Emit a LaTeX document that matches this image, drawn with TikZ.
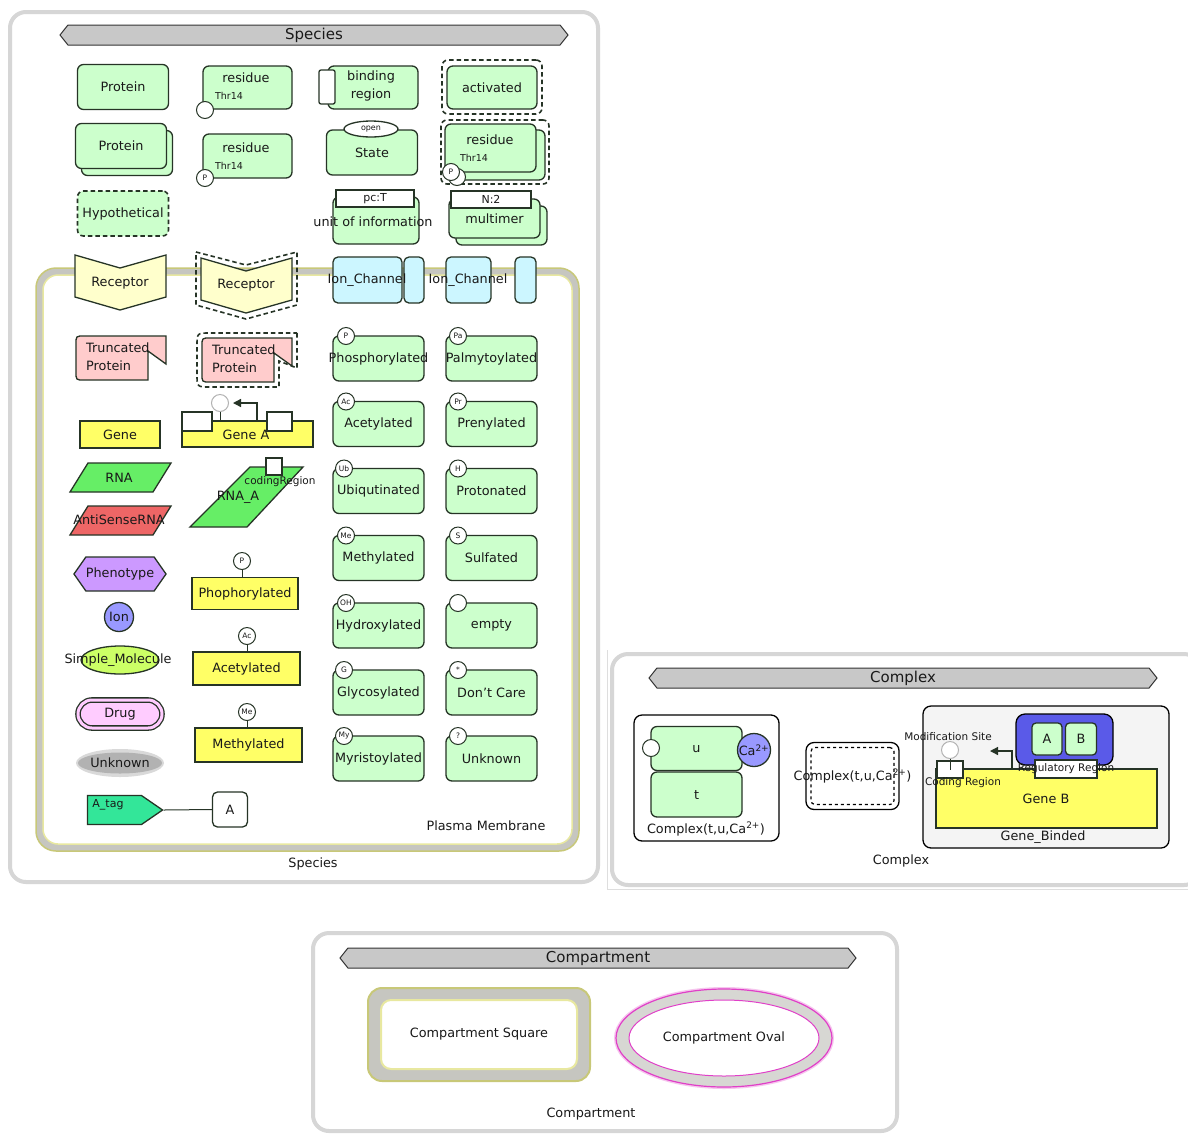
\documentclass[tikz,border=0pt]{standalone}
\usepackage{fontspec}
\setmainfont{DejaVu Sans}
\usetikzlibrary{shapes.geometric, shapes.symbols, shapes.misc, arrows.meta}

\definecolor{edge}{HTML}{263426}
\definecolor{protgreen}{HTML}{CCFFCC}
\definecolor{recyellow}{HTML}{FFFFCC}
\definecolor{ioncyan}{HTML}{CCF6FF}
\definecolor{truncpink}{HTML}{FFCCCC}
\definecolor{geneyellow}{HTML}{FFFF66}
\definecolor{rnagreen}{HTML}{66EE66}
\definecolor{antired}{HTML}{EE6666}
\definecolor{phenopurple}{HTML}{CC99FF}
\definecolor{ionblue}{HTML}{9999FF}
\definecolor{molgreen}{HTML}{CCFF66}
\definecolor{drugpink}{HTML}{FFCCFF}
\definecolor{tagmint}{HTML}{33E699}
\definecolor{cxblue}{HTML}{5A5AE8}
\definecolor{cxgray}{HTML}{F4F4F4}
\definecolor{bannergray}{HTML}{C8C8C8}
\definecolor{panelgray}{HTML}{D6D6D6}
\definecolor{colive}{HTML}{C8C878}
\definecolor{cband}{HTML}{C6C6C0}
\definecolor{cpale}{HTML}{E8E8A0}
\definecolor{cmag}{HTML}{E040C8}

\newcommand{\spill}[1]{\makebox[0pt]{#1}}

\begin{document}
\begin{tikzpicture}[x=1pt, y=-1pt,
  every node/.style={font=\fontsize{12.8}{15}\selectfont, inner sep=0pt, text=black!90},
  bord/.style={draw=edge, line width=1.3pt},
  prot/.style={bord, fill=protgreen, rounded corners=6pt, minimum width=91pt, minimum height=45pt},
  hypo/.style={bord, line width=1.6pt, dashed, dash pattern=on 4.5pt off 3pt, rounded corners=6pt},
  site/.style={circle, bord, line width=1pt, fill=white, minimum size=17pt},
  mod/.style={site, font=\fontsize{7.5}{8}\selectfont},
  wbox/.style={bord, fill=white},
  infobox/.style={wbox, minimum width=78pt, minimum height=17pt, font=\fontsize{11}{12}\selectfont},
  thr/.style={font=\fontsize{9.5}{10}\selectfont},
  lab/.style={font=\fontsize{10.5}{12}\selectfont},
  gene/.style={bord, fill=geneyellow},
  ionch/.style={bord, fill=ioncyan, rounded corners=5pt, minimum height=46pt},
  recep/.style={bord, fill=recyellow},
  trunc/.style={bord, fill=truncpink},
  rna/.style={bord, fill=rnagreen},
  cbox/.style={draw=black, line width=1.3pt, fill=white, rounded corners=8pt},
  panel/.style={draw=panelgray, line width=4pt, fill=white, rounded corners=16pt},
  banner/.style={signal, signal to=west and east, signal pointer angle=103, draw=black!80,
    line width=1pt, fill=bannergray, minimum height=20pt, font=\fontsize{15}{16}\selectfont}]
\useasboundingbox (0,0) rectangle (1188,1133);
\fill[white] (0,0) rectangle (1188,1133);

% panels
\node[panel, minimum width=588pt, minimum height=870pt] (SP) at (304,447) {};
\draw[panelgray!80, line width=0.8pt] (607,650) -- (607,889) -- (1188,889);
\node[panel, minimum width=588pt, minimum height=231pt] (CP) at (906,769.5) {};
\node[panel, minimum width=584pt, minimum height=198pt] (KP) at (605,1032) {};

\node[banner, minimum width=508pt] (SB) at (314,35) {Species};
\node[banner, minimum width=508pt] (CB) at (903,678) {Complex};
\node[banner, minimum width=516pt] (KB) at (598,958) {Compartment};

% plasma membrane
\node[draw=colive, line width=1.5pt, fill=cband, rounded corners=20pt, minimum width=543pt, minimum height=583pt] (PM) at (307.5,559.5) {};
\node[draw=cpale, line width=1.5pt, fill=white, rounded corners=15pt, minimum width=529pt, minimum height=569pt] (PMi) at (307.5,559.5) {};
\node (PMl) at (486,826) {Plasma Membrane};
\node (SPl) at (313,864) {Species};

% first row
\node[prot] (N1) at (123,87) {Protein};
\node[prot, minimum width=89pt, minimum height=43pt] (N2) at (247.5,87.5) {};
\node (N2a) at (246,78) {residue};
\node[thr] (N2b) at (229,96) {Thr14};
\node[site] (N2c) at (205,110) {};
\node[prot, minimum width=90pt, minimum height=43pt] (N3) at (373,87.5) {};
\node[wbox, rounded corners=2pt, minimum width=16pt, minimum height=34pt] (N3a) at (327,87) {};
\node[align=center, font=\fontsize{12.8}{18}\selectfont] (N3b) at (371,86) {binding\\region};
\node[hypo, minimum width=100pt, minimum height=54pt] (N4o) at (492,87) {};
\node[prot, minimum width=90pt, minimum height=43pt] (N4) at (492,87.5) {activated};

% second row
\node[prot] (N5b) at (127,153) {};
\node[prot] (N5) at (121,146) {Protein};
\node[prot, minimum width=89pt, minimum height=44pt] (N6) at (247.5,156) {};
\node (N6a) at (246,148) {residue};
\node[thr] (N6b) at (229,166) {Thr14};
\node[mod] (N6c) at (205,178) {P};
\node[prot] (N7) at (372,152.5) {State};
\node[ellipse, bord, fill=white, minimum width=54pt, minimum height=16pt, font=\fontsize{8}{9}\selectfont] (N7a) at (371,129) {open};
\node[hypo, minimum width=108pt, minimum height=64pt] (N8o) at (495,152) {};
\node[prot, minimum width=93pt, minimum height=50pt] (N8b) at (498.5,155) {};
\node[prot, minimum width=91pt, minimum height=48pt] (N8) at (490.5,148) {};
\node (N8a) at (490,140) {residue};
\node[thr] (N8c) at (474,158) {Thr14};
\node[mod] (N8d) at (457,177) {};
\node[mod] (N8e) at (451,172) {P};

% third row
\node[prot, hypo] (N9) at (123,213.5) {Hypothetical};
\node[prot, minimum width=86pt, minimum height=47pt] (N10) at (376,220.5) {};
\node[infobox] (N10a) at (375,198.5) {pc:T};
\node (N10b) at (373,222) {\spill{unit of information}};
\node[prot, minimum width=91pt, minimum height=39pt] (N11b) at (501.5,225.5) {};
\node[prot, minimum width=91pt, minimum height=39pt] (N11) at (494.5,218.5) {multimer};
\node[infobox, minimum width=80pt] (N11a) at (491,199.5) {N:2};

% receptors and channels on the membrane
\draw[recep] (75,255) -- (120,268) -- (166,255) -- (166,297) -- (120,310) -- (75,297) -- cycle;
\node (N12) at (120,283) {Receptor};
\draw[hypo, rounded corners=0pt] (196,252) -- (246,265) -- (297,252) -- (297,305) -- (246,319) -- (196,305) -- cycle;
\draw[recep] (201,258) -- (246,271) -- (292,258) -- (292,300) -- (246,313) -- (201,300) -- cycle;
\node (N13) at (246,285) {Receptor};
\node[ionch, minimum width=69pt] (N14) at (367.5,280) {};
\node[ionch, minimum width=20pt] (N14a) at (414,280) {};
\node (N14t) at (367,280) {\spill{Ion\_Channel}};
\node[ionch, minimum width=45pt] (N15) at (468.5,280) {};
\node[ionch, minimum width=21pt] (N15a) at (525.5,280) {};
\node (N15t) at (468,280) {\spill{Ion\_Channel}};

% truncated
\draw[trunc] (166,336) -- (166,364) -- (148,351) -- (148,380) -- (84,380) .. controls (76,380) .. (76,372)
  -- (76,344) .. controls (76,336) .. (84,336) -- cycle;
\node[align=left, anchor=west, font=\fontsize{12.8}{18}\selectfont] (N16) at (86,357) {Truncated\\Protein};
\draw[hypo, rounded corners=0pt] (297,333) -- (297,368) -- (279,361) -- (279,387) -- (210,387) .. controls (197,387) .. (197,374)
  -- (197,346) .. controls (197,333) .. (210,333) -- cycle;
\draw[trunc] (292,338) -- (292,366) -- (274,353) -- (274,382) -- (210,382) .. controls (202,382) .. (202,374)
  -- (202,346) .. controls (202,338) .. (210,338) -- cycle;
\node[align=left, anchor=west, font=\fontsize{12.8}{18}\selectfont] (N17) at (212,359) {Truncated\\Protein};

% genes
\node[gene, minimum width=80pt, minimum height=27pt] (N18) at (120,434.5) {Gene};
\node[gene, minimum width=131pt, minimum height=26pt] (N19) at (247.5,434) {};
\node[wbox, minimum width=30pt, minimum height=19pt] (N19a) at (197,421.5) {};
\node[wbox, minimum width=25pt, minimum height=19pt] (N19b) at (279.5,421.5) {};
\node (N19t) at (246,435) {Gene A};
\node[site, draw=gray!60] (N19c) at (220,403) {};
\draw[bord, line width=1pt] (N19c.south) -- (N19c.south |- N19.north);
\coordinate (N19d) at (257,421);
\coordinate (N19e) at (233,403);
\draw[bord, -{Triangle[length=8pt,width=8pt]}] (N19d) |- (N19e);

% rna
\draw[rna] (88,463) -- (171,463) -- (153,492) -- (70,492) -- cycle;
\node (N20) at (119,478) {RNA};
\draw[rna, fill=antired] (88,506) -- (171,506) -- (153,535) -- (70,535) -- cycle;
\node (N21) at (119,520) {\spill{AntiSenseRNA}};
\draw[rna] (250,467) -- (303,467) -- (247,527) -- (190,527) -- cycle;
\node[wbox, minimum width=16pt, minimum height=17pt] (N22a) at (274,466.5) {};
\node[lab] (N22b) at (280,482) {codingRegion};
\node (N22) at (238,497) {RNA\_A};

% other species
\node[signal, signal to=west and east, signal pointer angle=110, bord, fill=phenopurple, minimum width=90pt, minimum height=34pt] (N23) at (120,574) {Phenotype};
\node[circle, bord, fill=ionblue, minimum size=29pt] (N24) at (119,617) {Ion};
\node[ellipse, bord, fill=molgreen, minimum width=78pt, minimum height=28pt] (N25) at (120,660) {};
\node (N25t) at (118,660) {\spill{Simple\_Molecule}};
\node[rounded rectangle, bord, double=drugpink, double distance=3pt, fill=drugpink, minimum width=84pt, minimum height=28pt] (N26) at (120,714) {Drug};
\node[ellipse, fill=gray!30, minimum width=88pt, minimum height=28pt] (N27o) at (120,763) {};
\node[ellipse, fill=gray!60, minimum width=80pt, minimum height=21pt] (N27) at (120,763) {Unknown};
\node[signal, signal to=east, signal pointer angle=69, bord, fill=tagmint, minimum width=75pt, minimum height=29pt] (N28) at (114.5,810) {};
\node[font=\fontsize{11}{12}\selectfont] (N28t) at (108,805) {A\_tag};
\node[wbox, rounded corners=5pt, minimum width=35pt, minimum height=35pt] (N29) at (230,809.5) {A};
\draw[bord, line width=1pt] (N28.east) -- (N29.west);

% modified genes
\node[mod] (N30) at (242,561) {P};
\node[gene, minimum width=106pt, minimum height=32pt] (N31) at (245,593.5) {Phophorylated};
\draw[bord, line width=1pt] (N30.south) -- (N30.south |- N31.north);
\node[mod] (N32) at (247,636) {Ac};
\node[gene, minimum width=107pt, minimum height=33pt] (N33) at (246.5,668.5) {Acetylated};
\draw[bord, line width=1pt] (N32.south) -- (N32.south |- N33.north);
\node[mod] (N34) at (247,712) {Me};
\node[gene, minimum width=107pt, minimum height=34pt] (N35) at (248.5,745) {Methylated};
\draw[bord, line width=1pt] (N34.south) -- (N34.south |- N35.north);

% modification residues
\node[prot] (M1) at (378.5,358.5) {\spill{Phosphorylated}};
\node[mod] (M1s) at (346,336) {P};
\node[prot] (M2) at (491.5,358.5) {\spill{Palmytoylated}};
\node[mod] (M2s) at (458,336) {Pa};
\node[prot] (M3) at (378.5,424) {Acetylated};
\node[mod] (M3s) at (346,401.5) {Ac};
\node[prot] (M4) at (491.5,424) {Prenylated};
\node[mod] (M4s) at (458,401.5) {Pr};
\node[prot] (M5) at (378.5,491) {\spill{Ubiqutinated}};
\node[mod] (M5s) at (344,468.5) {Ub};
\node[prot] (M6) at (491.5,491) {Protonated};
\node[mod] (M6s) at (458,468.5) {H};
\node[prot] (M7) at (378.5,558) {Methylated};
\node[mod] (M7s) at (346,535.5) {Me};
\node[prot] (M8) at (491.5,558) {Sulfated};
\node[mod] (M8s) at (458,535.5) {S};
\node[prot] (M9) at (378.5,625.5) {\spill{Hydroxylated}};
\node[mod] (M9s) at (346,603) {OH};
\node[prot] (M10) at (491.5,625.5) {empty};
\node[mod] (M10s) at (458,603) {};
\node[prot] (M11) at (378.5,692.5) {\spill{Glycosylated}};
\node[mod] (M11s) at (344,670) {G};
\node[prot] (M12) at (491.5,692.5) {Don't Care};
\node[mod] (M12s) at (458,670) {*};
\node[prot] (M13) at (378.5,758.5) {\spill{Myristoylated}};
\node[mod] (M13s) at (344,736) {My};
\node[prot] (M14) at (491.5,758.5) {Unknown};
\node[mod] (M14s) at (458,736) {?};

% complexes
\node[cbox, minimum width=145pt, minimum height=126pt] (C1) at (706.5,778) {};
\node[prot, minimum width=91pt, minimum height=44pt] (C1u) at (696.5,748.5) {u};
\node[prot, minimum width=91pt, minimum height=45pt] (C1t) at (696.5,794.5) {t};
\node[site] (C1a) at (651,748) {};
\node[circle, bord, fill=ionblue, minimum size=33pt] (C1b) at (754,750) {\spill{Ca\textsuperscript{2+}}};
\node (C1l) at (706,829) {Complex(t,u,Ca\textsuperscript{2+})};

\node[cbox, minimum width=93pt, minimum height=67pt] (C2) at (852.5,776) {};
\node[draw=black, line width=1.2pt, dashed, rounded corners=4pt, minimum width=83pt, minimum height=57pt] (C2i) at (852.5,776) {\spill{Complex(t,u,Ca\textsuperscript{2+})}};

\node[cbox, fill=cxgray, minimum width=246pt, minimum height=142pt] (C3) at (1046,777) {};
\node[gene, minimum width=221pt, minimum height=59pt] (C3g) at (1046.5,798.5) {};
\node[cbox, fill=cxblue, rounded corners=9pt, minimum width=97pt, minimum height=51pt] (C3c) at (1064.5,739.5) {};
\node[prot, rounded corners=4pt, minimum width=30pt, minimum height=32pt] (C3a) at (1047,739) {A};
\node[prot, rounded corners=4pt, minimum width=31pt, minimum height=32pt] (C3b) at (1081,739) {B};
\node[wbox, minimum width=62pt, minimum height=18pt, lab] (C3r) at (1066,769) {\spill{Regulatory Region}};
\node[wbox, minimum width=26pt, minimum height=17pt] (C3d) at (950,769.5) {};
\node[site, draw=gray!60] (C3e) at (950,750) {};
\draw[bord, line width=1pt] (C3e.south) -- (C3d.center);
\node[lab] (C3f) at (948,737) {Modification Site};
\node[lab] (C3h) at (963,783) {Coding Region};
\node (C3i) at (1046,799) {Gene B};
\node (C3j) at (1043,837) {Gene\_Binded};
\coordinate (C3k) at (1012,769);
\coordinate (C3l) at (990,751);
\draw[bord, -{Triangle[length=8pt,width=8pt]}] (C3k) |- (C3l);
\node (CPl) at (901,861) {Complex};

% compartments
\node[draw=colive, line width=2pt, fill=cband, rounded corners=14pt, minimum width=222pt, minimum height=93pt] (K1) at (479,1034.5) {};
\node[draw=cpale, line width=2pt, fill=white, rounded corners=10pt, minimum width=196pt, minimum height=69pt] (K1i) at (479,1034.5) {Compartment Square};
\node[ellipse, draw=cmag!30, line width=4pt, minimum width=216pt, minimum height=98pt] (K2g) at (724,1038) {};
\node[ellipse, draw=cmag, line width=1.2pt, fill=cband!70, minimum width=216pt, minimum height=98pt] (K2) at (724,1038) {};
\node[ellipse, draw=cmag, line width=1pt, fill=white, minimum width=190pt, minimum height=76pt] (K2i) at (724,1038) {Compartment Oval};
\node (KPl) at (591,1114) {Compartment};
\end{tikzpicture}
\end{document}
